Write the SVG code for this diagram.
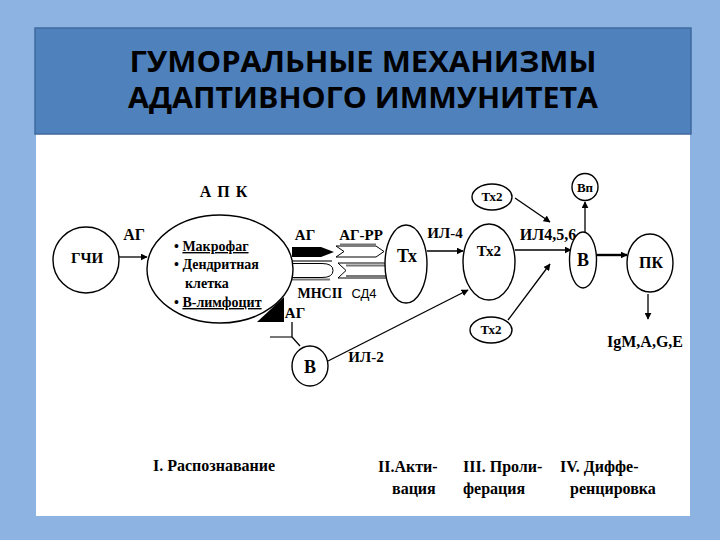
<svg xmlns="http://www.w3.org/2000/svg" width="720" height="540" viewBox="0 0 720 540">
<style>
.t{font-family:"Liberation Serif","Times New Roman",serif;font-weight:bold;fill:#000}
.s13{font-size:13px}
.s14{font-size:14px}
.s15{font-size:15px}
.s16{font-size:16px}
.s18{font-size:18px}
.n{fill:#fff;stroke:#000;stroke-width:1.4}
.c{fill:none;stroke:#000;stroke-width:1.3}
.g{fill:none;stroke:#777;stroke-width:2}
.title{font-family:"Open Sans","Liberation Sans",sans-serif;font-weight:bold;font-size:29px;fill:#000}
</style>
<defs>
<marker id="ah" viewBox="0 0 10 10" refX="9" refY="5" markerWidth="7" markerHeight="7" markerUnits="userSpaceOnUse" orient="auto">
<path d="M0,0 L10,5 L0,10 z" fill="#000"/>
</marker>
</defs>
<rect x="0" y="0" width="720" height="540" fill="#8DB3E2"/>
<rect x="36" y="134" width="654" height="382" fill="#fff"/>
<rect x="35" y="28" width="656" height="106" fill="#4F81BD" stroke="#3F6A9E" stroke-width="1.5"/>
<text class="title" x="363" y="72" text-anchor="middle" textLength="467" lengthAdjust="spacingAndGlyphs">ГУМОРАЛЬНЫЕ МЕХАНИЗМЫ</text>
<text class="title" x="363" y="108" text-anchor="middle" textLength="470" lengthAdjust="spacingAndGlyphs">АДАПТИВНОГО ИММУНИТЕТА</text>

<g id="connectors">
<line class="c" x1="119" y1="257" x2="147" y2="257" marker-end="url(#ah)"/>
<line class="c" x1="427" y1="251" x2="463" y2="251" marker-end="url(#ah)"/>
<line class="c" x1="328" y1="361" x2="468" y2="290" marker-end="url(#ah)"/>
<line class="c" x1="515" y1="198" x2="550" y2="222" marker-end="url(#ah)"/>
<line class="c" x1="508" y1="320" x2="550" y2="264" marker-end="url(#ah)"/>
<line class="c" x1="515" y1="250" x2="571" y2="250" marker-end="url(#ah)"/>
<line class="c" x1="585" y1="233" x2="585" y2="202" marker-end="url(#ah)"/>
<line x1="597" y1="255" x2="627" y2="255" stroke="#000" stroke-width="2.4" marker-end="url(#ah)"/>
<line class="c" x1="648" y1="294" x2="648" y2="319" marker-end="url(#ah)"/>
<line class="g" x1="270" y1="337" x2="292" y2="337"/>
<polyline class="c" points="292,322 292,337 300,346"/>
</g>

<g id="receptors">
<polygon points="292,247 321,247 334,252 321,257 292,257" fill="#000"/>
<line class="g" x1="292" y1="261" x2="332" y2="261"/>
<path d="M292,263.5 H322 Q333,263.5 333,270.5 Q333,277.5 322,277.5 H292" fill="#fff" stroke="#000" stroke-width="1"/>
<line class="g" x1="292" y1="279.5" x2="330" y2="279.5"/>
<polygon points="336,246 376,246 384,251.5 376,257 336,257 344,251.5" fill="#fff" stroke="#000" stroke-width="1"/>
<line class="g" x1="340" y1="244.5" x2="376" y2="244.5"/>
<polygon points="338,263 387,263 387,278 338,278 346,270.5" fill="#fff" stroke="#000" stroke-width="1"/>
<line class="g" x1="346" y1="265.5" x2="387" y2="265.5"/>
<line class="g" x1="346" y1="276" x2="387" y2="276"/>
<polygon points="257,322 284,322 284,297" fill="#000"/>
</g>

<g id="gchi">
<circle class="n" cx="86" cy="260" r="33"/>
<text class="t s15" x="87" y="263" text-anchor="middle">ГЧИ</text>
</g>
<text class="t s16" x="134" y="240" text-anchor="middle">АГ</text>

<g id="apk">
<text class="t s16" x="224" y="197" text-anchor="middle" letter-spacing="1">А П К</text>
<ellipse class="n" cx="220" cy="269" rx="73" ry="54"/>
<text class="t s14" x="174" y="251">• <tspan text-decoration="underline">Макрофаг</tspan></text>
<text class="t s14" x="174" y="269">• Дендритная</text>
<text class="t s14" x="185" y="288">клетка</text>
<text class="t s14" x="174" y="307">• <tspan text-decoration="underline">В-лимфоцит</tspan></text>
</g>
<text class="t s15" x="305" y="240" text-anchor="middle">АГ</text>
<text class="t s15" x="361" y="240" text-anchor="middle">АГ-РР</text>
<text class="t s14" x="320" y="298" text-anchor="middle">МНСII</text>
<text x="364" y="298" text-anchor="middle" font-family="Liberation Sans, sans-serif" font-size="13" fill="#000">СД4</text>
<text class="t s15" x="295" y="318" text-anchor="middle">АГ</text>

<g id="b1">
<ellipse class="n" cx="310" cy="366" rx="18" ry="20"/>
<text class="t s18" x="310" y="373" text-anchor="middle">В</text>
</g>
<text class="t s15" x="366" y="362" text-anchor="middle">ИЛ-2</text>

<g id="tx">
<ellipse class="n" cx="406" cy="264" rx="21" ry="39"/>
<text class="t s18" x="407" y="262" text-anchor="middle">Тх</text>
</g>
<text class="t s15" x="445" y="238" text-anchor="middle">ИЛ-4</text>

<g id="tx2">
<ellipse class="n" cx="489" cy="262" rx="26" ry="38"/>
<text class="t s15" x="489" y="256" text-anchor="middle">Тх2</text>
</g>
<g id="tx2top">
<ellipse class="n" cx="492" cy="197" rx="20" ry="13"/>
<text class="t s13" x="492" y="201" text-anchor="middle">Тх2</text>
</g>
<g id="tx2bot">
<ellipse class="n" cx="491" cy="330" rx="21" ry="13"/>
<text class="t s13" x="491" y="334" text-anchor="middle">Тх2</text>
</g>
<text class="t s16" x="548" y="240" text-anchor="middle">ИЛ4,5,6</text>

<g id="b2">
<ellipse class="n" cx="583" cy="260" rx="13.5" ry="28"/>
<text class="t s18" x="583" y="266" text-anchor="middle">В</text>
</g>
<g id="bp">
<ellipse class="n" cx="585" cy="187" rx="13" ry="13.5"/>
<text class="t s13" x="585" y="192" text-anchor="middle">Вп</text>
</g>
<g id="pk">
<ellipse class="n" cx="650" cy="263" rx="23" ry="29"/>
<text class="t s16" x="651" y="268" text-anchor="middle">ПК</text>
</g>
<text class="t s16" x="645" y="347" text-anchor="middle">IgM,A,G,E</text>

<g id="stages">
<text class="t s16" x="153" y="471">I. Распознавание</text>
<text class="t s16" x="378" y="472">II.Акти-</text>
<text class="t s16" x="392" y="494">вация</text>
<text class="t s16" x="463" y="472">III. Проли-</text>
<text class="t s16" x="463" y="494">ферация</text>
<text class="t s16" x="560" y="472">IV. Диффе-</text>
<text class="t s16" x="570" y="494">ренцировка</text>
</g>
</svg>
